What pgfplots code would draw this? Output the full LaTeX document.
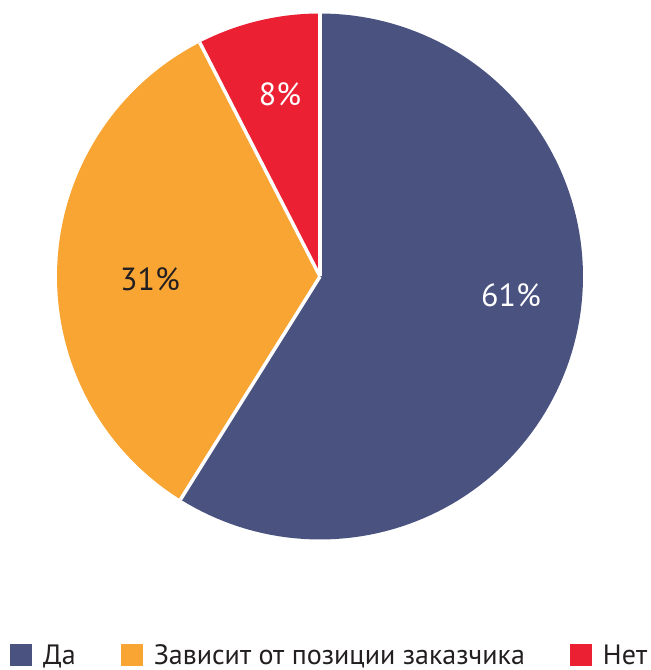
\documentclass[border=0pt]{standalone}
\usepackage{pgfplots}
\pgfplotsset{compat=1.18}
\usepackage{fontspec}
\setmainfont{PT Sans}
\definecolor{cBlue}{HTML}{4A527F}
\definecolor{cOrange}{HTML}{F9A533}
\definecolor{cRed}{HTML}{EC2033}
\definecolor{cText}{HTML}{231F20}
% shares of the circle as drawn (percent)
\def\vDa{58.9}
\def\vZav{33.5}
\def\vNet{7.6}
\def\cx{320}
\def\cy{393.5}
\def\rr{263}
\begin{document}
\begin{tikzpicture}
\pgfmathsetmacro{\aA}{90}
\pgfmathsetmacro{\aB}{90-3.6*\vDa}
\pgfmathsetmacro{\aC}{90+3.6*\vNet}
\pgfmathsetmacro{\aD}{\aC+3.6*\vZav}
\begin{axis}[
  at={(0pt,0pt)}, anchor=south west,
  scale only axis, width=651pt, height=670pt,
  xmin=0, xmax=651, ymin=0, ymax=670,
  hide axis, clip=false,
  legend columns=3,
  legend cell align=left,
  legend image code/.code={\fill[#1] (0pt,-11pt) rectangle (22pt,11pt);},
  legend style={draw=none, fill=none, at={(axis cs:10,15)}, anchor=west,
    inner xsep=0pt, inner ysep=0pt,
    font=\fontsize{28}{30}\selectfont\color{cText},
    /tikz/every odd column/.append style={column sep=11pt},
    /tikz/every even column/.append style={column sep=45pt},
    nodes={inner xsep=0pt, inner ysep=0pt}},
]
\addlegendimage{draw=none, fill=cBlue}
\addlegendentry{Да}
\addlegendimage{draw=none, fill=cOrange}
\addlegendentry{Зависит от позиции заказчика}
\addlegendimage{draw=none, fill=cRed}
\addlegendentry{Нет}
% slices
\addplot[draw=none, fill=cBlue, domain=\aB:\aA, samples=120, variable=\t, forget plot]
  ({\cx+\rr*cos(t)}, {\cy+\rr*sin(t)}) -- (axis cs:\cx,\cy) -- cycle;
\addplot[draw=none, fill=cOrange, domain=\aC:\aD, samples=120, variable=\t, forget plot]
  ({\cx+\rr*cos(t)}, {\cy+\rr*sin(t)}) -- (axis cs:\cx,\cy) -- cycle;
\addplot[draw=none, fill=cRed, domain=\aA:\aC, samples=40, variable=\t, forget plot]
  ({\cx+\rr*cos(t)}, {\cy+\rr*sin(t)}) -- (axis cs:\cx,\cy) -- cycle;
% separators
\addplot[white, line width=3.5pt, forget plot] coordinates {(320,393.5) (320,658)};
\addplot[white, line width=3.5pt, forget plot] coordinates {(320,393.5) (199.8,627.4)};
\addplot[white, line width=3.5pt, forget plot] coordinates {(320,393.5) (180.5,170.5)};
% labels
\node[text=white, font=\fontsize{32}{34}\selectfont] at (axis cs:511,375) {61\%};
\node[text=cText, font=\fontsize{32}{34}\selectfont] at (axis cs:150,391) {31\%};
\node[text=white, font=\fontsize{32}{34}\selectfont] at (axis cs:280,576) {8\%};
\end{axis}
\pgfresetboundingbox
\path[use as bounding box] (0pt,0pt) rectangle (651pt,670pt);
\end{tikzpicture}
\end{document}
